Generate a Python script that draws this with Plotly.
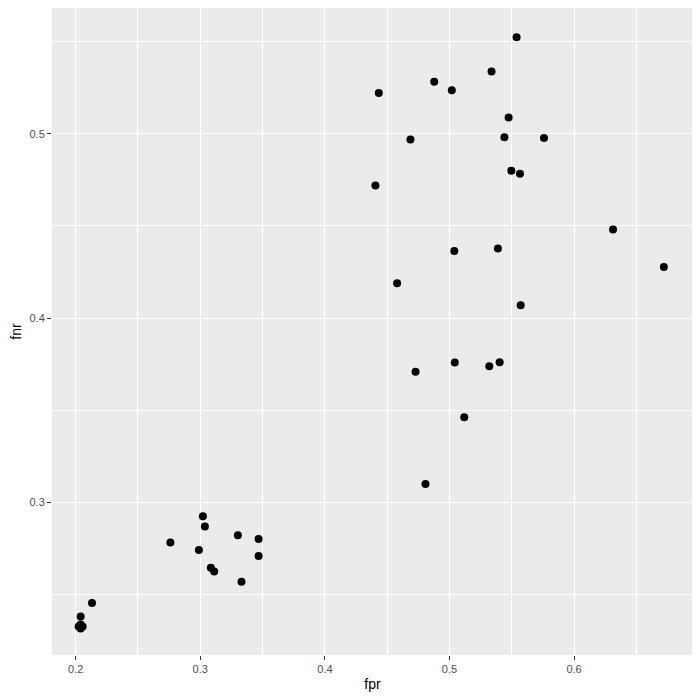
import plotly.graph_objects as go

# false positive / false negative rates
# (the first four points overlap in the bottom-left corner)
fpr = [
    0.2024, 0.2056, 0.2040, 0.2040, 0.2040, 0.2131, 0.2760, 0.2989, 0.3021,
    0.3037, 0.3085, 0.3112, 0.3302, 0.3331, 0.3468, 0.3468,
    0.5539, 0.5338, 0.4878, 0.5019, 0.4433, 0.5475, 0.4687, 0.5441, 0.5759,
    0.5497, 0.5566, 0.4406,
    0.6313, 0.5039, 0.5389, 0.4580, 0.5572, 0.5043, 0.4728, 0.5320, 0.5403,
    0.5119, 0.4808, 0.6721,
]
fnr = [
    0.2326, 0.2326, 0.2315, 0.2337, 0.2380, 0.2453, 0.2781, 0.2741, 0.2924,
    0.2868, 0.2644, 0.2624, 0.2821, 0.2568, 0.2801, 0.2709,
    0.5524, 0.5338, 0.5283, 0.5236, 0.5222, 0.5088, 0.4969, 0.4982, 0.4978,
    0.4800, 0.4783, 0.4720,
    0.4481, 0.4364, 0.4377, 0.4189, 0.4069, 0.3759, 0.3708, 0.3739, 0.3760,
    0.3462, 0.3099, 0.4277,
]

fig = go.Figure(go.Scatter(
    x=fpr, y=fnr, mode="markers",
    marker=dict(color="black", size=8, line=dict(width=0)),
    showlegend=False,
))

axis_common = dict(
    showgrid=True, gridcolor="white", gridwidth=1.2,
    zeroline=False, showline=False,
    ticks="outside", ticklen=4, tickwidth=1, tickcolor="#333333",
    tickfont=dict(family="Liberation Sans, Arial, sans-serif", size=11, color="#4D4D4D"),
    title_font=dict(family="Liberation Sans, Arial, sans-serif", size=14, color="black"),
    dtick=0.1,
    minor=dict(dtick=0.05, showgrid=True, gridcolor="white", gridwidth=0.6, ticks=""),
    automargin=False,
)

# the page body adds an 8px offset, so the figure is a bit smaller than the window
fig.update_layout(
    width=692, height=692,
    margin=dict(l=44, r=7, t=0, b=45),
    paper_bgcolor="white",
    plot_bgcolor="#EBEBEB",
    xaxis=dict(axis_common, range=[0.181, 0.6955], tick0=0.2,
               title=dict(text="fpr", standoff=4)),
    yaxis=dict(axis_common, range=[0.2171, 0.5683], tick0=0.3,
               title=dict(text="fnr", standoff=6)),
)

fig.write_html("out.html")
